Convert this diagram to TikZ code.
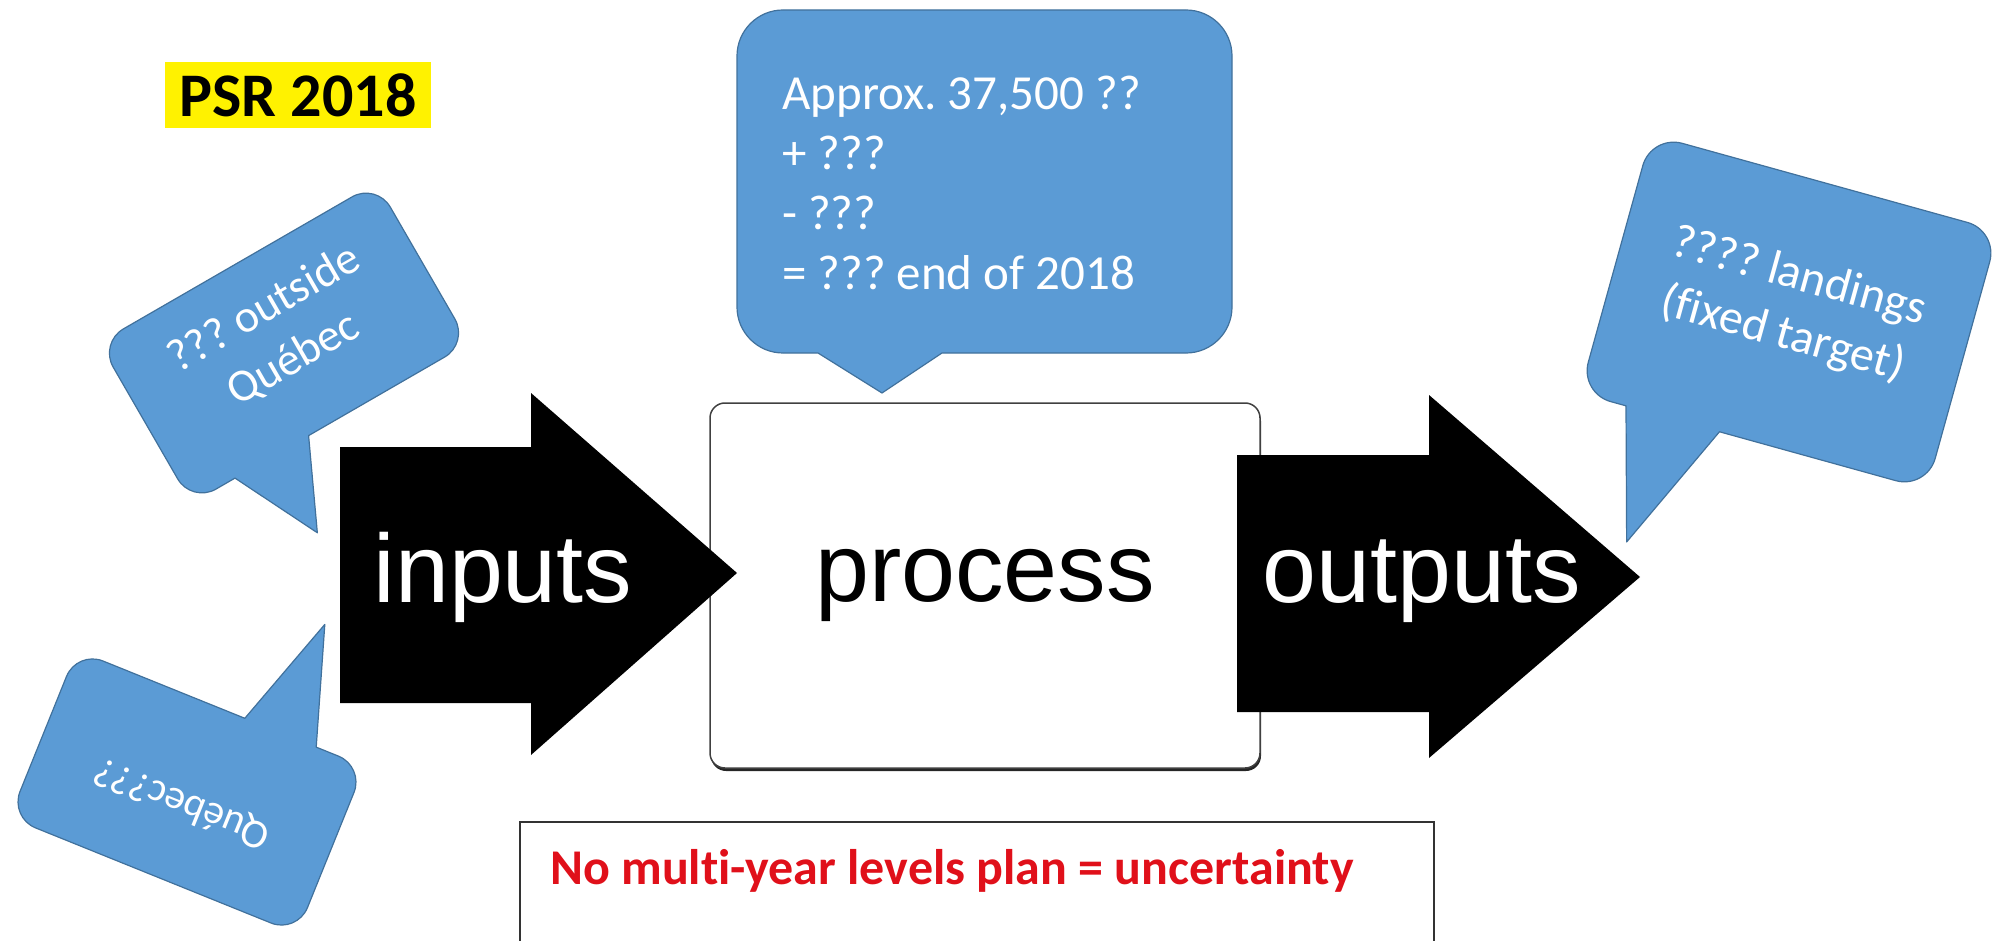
\documentclass[tikz,border=0pt]{standalone}
\usepackage{fontspec}
\setmainfont{Carlito}[Ligatures=CommonOff]
\newfontfamily\arialfont{Liberation Sans}
\usetikzlibrary{shadows}
\frenchspacing

\definecolor{bubblefill}{HTML}{5B9BD5}
\definecolor{bubbleline}{HTML}{41719C}
\definecolor{warnred}{HTML}{E0101A}

\tikzset{
    bubble/.style={fill=bubblefill, draw=bubbleline, line width=1.2pt, line join=round},
    bubbletext/.style={text=white, align=center, inner sep=0pt},
    blockarrow/.style={fill=black},
    arrowtext/.style={text=white, font=\arialfont\fontsize{97}{110}\selectfont, inner sep=0pt, anchor=base}
}

\begin{document}
\begin{tikzpicture}[x=1pt, y=-1pt]
    \useasboundingbox (0,0) rectangle (2000,941);

    \node[fill=yellow, font=\bfseries\fontsize{62}{72}\selectfont, minimum width=266, minimum height=66, inner sep=0pt] (psr) at (298,95) {PSR 2018};

    % the box goes first, the arrows lie over its edges
    \node[draw=black!75, line width=1.5pt, fill=white, rounded corners=15pt, minimum width=550, minimum height=365, inner sep=0pt,
          drop shadow={shadow xshift=1pt, shadow yshift=-3pt, opacity=1, fill=black!85},
          font=\arialfont\fontsize{97}{110}\selectfont] (process) at (985,585.5) {process};

    \begin{scope}[every node/.style={arrowtext}]
        \fill[blockarrow] (340,447) -- (531,447) -- (531,393) -- (737,573) -- (531,755) -- (531,703) -- (340,703) -- cycle;
        \node (inputs) at (503,602) {inputs};
        \fill[blockarrow] (1237,455) -- (1429,455) -- (1429,395) -- (1640,577) -- (1429,758) -- (1429,712) -- (1237,712) -- cycle;
        \node (outputs) at (1422,602) {outputs};
    \end{scope}

    % callouts
    \draw[bubble] (783,10) -- (1186,10) arc[start angle=270, end angle=360, radius=46] -- (1232,307) arc[start angle=0, end angle=90, radius=46]
        -- (942,353) -- (882,393) -- (818,353) -- (783,353) arc[start angle=90, end angle=180, radius=46] -- (737,56) arc[start angle=180, end angle=270, radius=46] -- cycle;
    \node[bubbletext, align=left, anchor=north west, font=\fontsize{49}{60}\selectfont] (stock) at (782,76)
        {Approx. 37,500 ??\\+ ???\\- ???\\= ??? end of 2018};

    \begin{scope}[shift={(284,343)}, rotate=30, transform shape]
        \draw[bubble] (-132,-92.5) -- (132,-92.5) arc[start angle=270, end angle=360, radius=28] -- (160,64.5) arc[start angle=0, end angle=90, radius=28]
            -- (-25,92.5) -- (-66,181) -- (-110,92.5) -- (-132,92.5) arc[start angle=90, end angle=180, radius=28] -- (-160,-64.5) arc[start angle=180, end angle=270, radius=28] -- cycle;
        \node[bubbletext, font=\fontsize{46}{58}\selectfont] (outside) at (0,-10) {??? outside\\Québec};
    \end{scope}

    \begin{scope}[shift={(187,792)}, rotate=158, transform shape]
        \draw[bubble] (-127,-90) -- (127,-90) arc[start angle=270, end angle=360, radius=28] -- (155,62) arc[start angle=0, end angle=90, radius=28]
            -- (-26,90) -- (-65,207) -- (-103,90) -- (-127,90) arc[start angle=90, end angle=180, radius=28] -- (-155,-62) arc[start angle=180, end angle=270, radius=28] -- cycle;
        \node[bubbletext, font=\fontsize{41}{50}\selectfont] (quebec) at (0,-12) {Québec???};
    \end{scope}

    \begin{scope}[shift={(1789,312)}, rotate=-15.5, transform shape]
        \draw[bubble] (-148,-134) -- (148,-134) arc[start angle=270, end angle=360, radius=32] -- (180,102) arc[start angle=0, end angle=90, radius=32]
            -- (-35,134) -- (-95,265) -- (-132,134) -- (-148,134) arc[start angle=90, end angle=180, radius=32] -- (-180,-102) arc[start angle=180, end angle=270, radius=32] -- cycle;
        \node[bubbletext, font=\fontsize{48}{60}\selectfont] (landings) at (0,-6) {???? landings\\(fixed target)};
    \end{scope}

    \draw[black!80, line width=2pt] (520,945) |- (1434,822) -- (1434,945);
    \node[font=\bfseries\fontsize{50}{60}\selectfont, text=warnred, anchor=base west, inner sep=0pt] (noplan) at (550,884) {No multi-year levels plan = uncertainty};
\end{tikzpicture}
\end{document}
